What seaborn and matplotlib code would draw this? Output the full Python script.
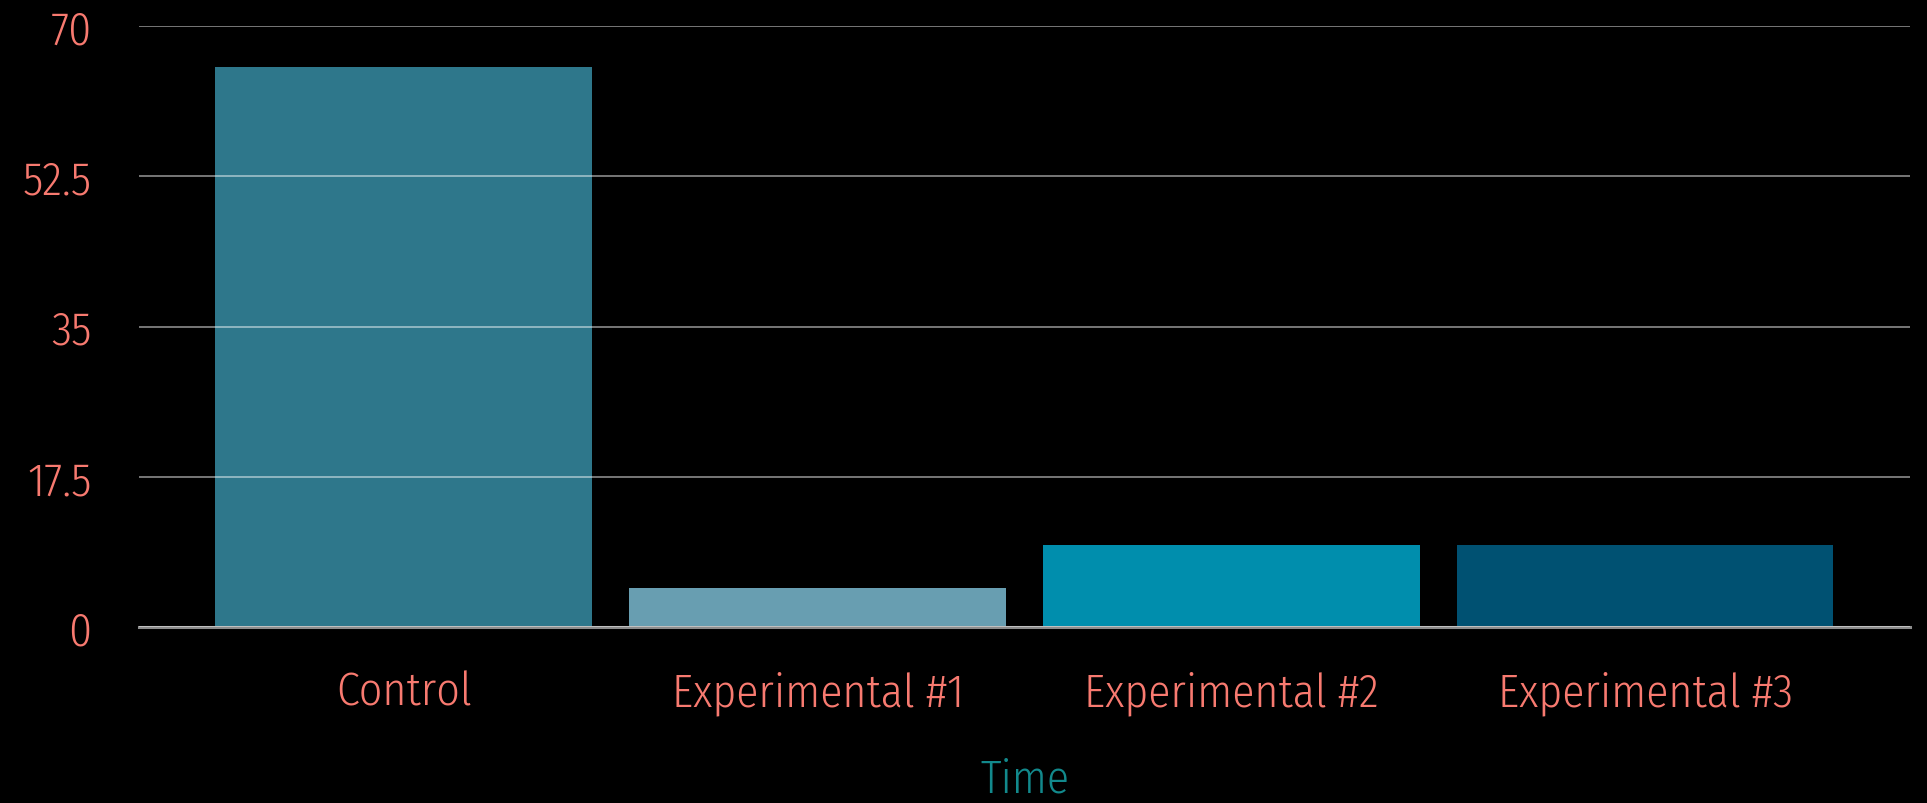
import matplotlib
matplotlib.use("Agg")
import os
import pandas as pd
import seaborn as sns
import matplotlib.pyplot as plt
from matplotlib import font_manager as fm

# Chart data
groups = ['Control', 'Experimental #1', 'Experimental #2', 'Experimental #3']
values = [65.2, 4.5, 9.5, 9.5]
bar_colors = ['#2e778b', '#689eb1', '#008ead', '#005172']
y_ticks = [0, 17.5, 35, 52.5, 70]
y_tick_labels = ['0', '17.5', '35', '52.5', '70']

df = pd.DataFrame({'Time': groups, 'Value': values})

# look for a narrow font on the system, register its upright files
narrow_family = None
wanted = ['condensed-light', 'condensedlight', 'sanscondensed', 'condensed', 'narrow']
files = fm.findSystemFonts()
for key in wanted:
    for f in files:
        name = os.path.basename(f).lower().replace('_', '').replace(' ', '')
        if key in name and 'bold' not in name and 'oblique' not in name and 'italic' not in name:
            narrow_family = fm.FontProperties(fname=f).get_name()
            break
    if narrow_family:
        break
if narrow_family:
    for f in files:
        try:
            if fm.FontProperties(fname=f).get_name() == narrow_family:
                fm.fontManager.addfont(f)
        except Exception:
            pass

sns.set_style('dark')
plt.rcParams['font.family'] = [narrow_family or 'DejaVu Sans', 'DejaVu Sans']
plt.rcParams['font.stretch'] = 'condensed'
plt.rcParams['font.weight'] = 350
text_weight = 350

fig = plt.figure(figsize=(19.27, 8.04), dpi=100, facecolor='black')
ax = fig.add_axes([0.0721, 0.2189, 0.9191, 0.7475])
ax.set_facecolor('black')

sns.barplot(data=df, x='Time', y='Value', hue='Time', palette=bar_colors,
            width=0.91, legend=False, ax=ax, saturation=1, linewidth=0)

ax.set_xlim(-0.64, 3.64)
ax.set_ylim(0, 70)
ax.set_yticks(y_ticks)
ax.set_yticklabels(y_tick_labels, fontweight=text_weight)
ax.set_xticks(range(len(groups)))
ax.set_xticklabels(groups, fontweight=text_weight)

# Grid drawn over the bars
ax.set_axisbelow(False)
ax.yaxis.grid(True, color='white', alpha=0.5, linewidth=1.3)
ax.xaxis.grid(False)

for side in ['top', 'right', 'left']:
    ax.spines[side].set_visible(False)
ax.spines['bottom'].set_color('#8c8c8c')
ax.spines['bottom'].set_linewidth(2.2)

ax.tick_params(axis='y', length=0, pad=34, labelsize=33, labelcolor='#f87a70')
ax.tick_params(axis='x', length=0, pad=31, labelsize=33, labelcolor='#f87a70')

ax.set_ylabel('')
ax.set_xlabel('Time', fontsize=33, color='#12898c', labelpad=30, fontweight=text_weight)

fig.savefig('out.png', dpi=100, facecolor='black')
